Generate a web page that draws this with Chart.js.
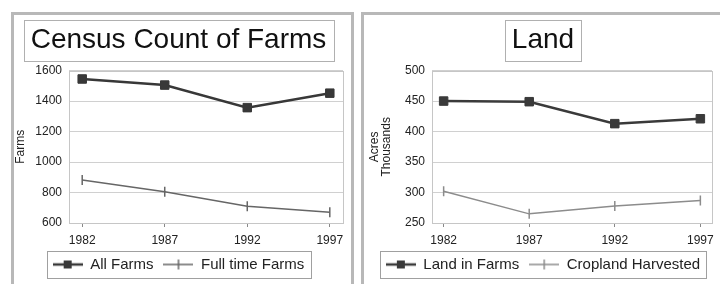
<!DOCTYPE html>
<html>
<head>
<meta charset="utf-8">
<script src="https://cdn.jsdelivr.net/npm/chart.js@4"></script>
<style>
  html, body { margin: 0; padding: 0; background: #fff; overflow: hidden; width: 720px; height: 284px; }
  .panel { position: absolute; border: 3px solid #b8b8b8; background: #fff; }
  canvas { display: block; }
</style>
</head>
<body>
<div class="panel" style="left:11px;top:12px;width:337px;height:285px"><canvas id="farms" width="337" height="275"></canvas></div>
<div class="panel" style="left:361px;top:12px;width:366px;height:285px"><canvas id="land" width="366" height="275"></canvas></div>
<script>
// data
const years = [1982, 1987, 1992, 1997];
const allFarms = [1545, 1505, 1357, 1452];
const fullTimeFarms = [882, 805, 710, 670];
const landInFarms = [450, 449, 413, 421];
const croplandHarvested = [302, 265, 278, 287];

Chart.defaults.font.family = '"Liberation Sans", Arial, sans-serif';
Chart.defaults.color = '#222';
Chart.defaults.animation = false;

function legendSample(color, width, marker) {
    const c = document.createElement('canvas');
    c.width = 30; c.height = 12;
    const g = c.getContext('2d');
    g.strokeStyle = color; g.lineWidth = width;
    g.beginPath(); g.moveTo(0, 6); g.lineTo(30, 6); g.stroke();
    if (marker === 'rect') {
        g.fillStyle = color;
        g.fillRect(11, 2, 8, 8);
    } else {
        g.lineWidth = 1.5;
        g.beginPath(); g.moveTo(15, 1); g.lineTo(15, 11); g.stroke();
    }
    return c;
}

// draws the plot frame, the box around the title and the box around the legend
const framePlugin = {
    id: 'frames',
    beforeDatasetsDraw(chart) {
        const a = chart.chartArea, ctx = chart.ctx;
        ctx.save();
        ctx.strokeStyle = '#c6c6c6';
        ctx.lineWidth = 1;
        ctx.strokeRect(Math.round(a.left) + 0.5, Math.round(a.top) + 0.5, Math.round(a.width), Math.round(a.height));
        ctx.restore();
    },
    afterDraw(chart) {
        const ctx = chart.ctx;
        ctx.save();
        ctx.strokeStyle = '#b0b0b0';
        ctx.lineWidth = 1;
        const t = chart.titleBlock;
        const topts = chart.options.plugins.title;
        ctx.font = topts.font.size + 'px ' + Chart.defaults.font.family;
        const w = ctx.measureText(topts.text).width;
        const cx = (t.left + t.right) / 2;
        const cy = t.top + topts.padding.top + topts.font.size * 1.2 / 2;
        ctx.strokeRect(Math.round(cx - w / 2 - 7) + 0.5, Math.round(cy - 20) + 0.5, Math.round(w + 14), 41);

        const boxes = chart.legend.legendHitBoxes;
        let l = Infinity, r = -Infinity, top = Infinity, bot = -Infinity;
        boxes.forEach(b => {
            l = Math.min(l, b.left); r = Math.max(r, b.left + b.width);
            top = Math.min(top, b.top); bot = Math.max(bot, b.top + b.height);
        });
        const my = (top + bot) / 2;
        ctx.strokeStyle = '#a0a0a0';
        ctx.strokeRect(Math.round(l - 6) + 0.5, Math.round(my - 14) + 0.5, Math.round(r - l + 12), 27);
        ctx.restore();
    }
};

function makeChart(id, opt) {
    const samples = opt.series.map(s => legendSample(s.color, s.width, s.marker));
    return new Chart(document.getElementById(id), {
        type: 'line',
        data: {
            datasets: opt.series.map(s => ({
                label: s.label,
                data: years.map((y, i) => ({ x: y, y: s.values[i] })),
                borderColor: s.color,
                backgroundColor: s.color,
                borderWidth: s.width,
                pointStyle: s.marker,
                pointRotation: s.marker === 'line' ? 90 : 0,
                pointRadius: s.marker === 'rect' ? 6 : 5,
                pointBorderWidth: s.marker === 'rect' ? 1 : 1.5,
                tension: 0
            }))
        },
        options: {
            responsive: false,
            devicePixelRatio: 1,
            layout: { padding: { left: opt.padLeft, right: opt.padRight, top: 0, bottom: 8 } },
            plugins: {
                title: {
                    display: true,
                    text: opt.title,
                    font: { size: 28, weight: 'normal' },
                    color: '#111',
                    padding: { top: 8, bottom: 14 }
                },
                legend: {
                    position: 'bottom',
                    labels: {
                        usePointStyle: true,
                        pointStyleWidth: 30,
                        font: { size: 15 },
                        color: '#222',
                        padding: 10,
                        generateLabels(chart) {
                            const items = Chart.defaults.plugins.legend.labels.generateLabels(chart);
                            items.forEach((it, i) => { it.pointStyle = samples[i]; it.rotation = 0; });
                            return items;
                        }
                    }
                },
                tooltip: { enabled: false }
            },
            scales: {
                x: {
                    type: 'linear',
                    min: years[0] - opt.xPad,
                    max: years[years.length - 1] + opt.xPad,
                    afterBuildTicks(scale) { scale.ticks = years.map(v => ({ value: v })); },
                    afterFit(scale) { scale.height = 24; },
                    grid: { drawOnChartArea: false, tickLength: 4, color: '#888' },
                    border: { display: false },
                    ticks: { font: { size: 12 }, padding: 6, maxRotation: 0, callback: v => String(v) }
                },
                y: {
                    min: opt.yMin,
                    max: opt.yMax,
                    afterFit(scale) { scale.width = opt.axisWidth; },
                    grid: { color: '#d0d0d0', drawTicks: false },
                    border: { display: false },
                    ticks: {
                        stepSize: opt.yStep,
                        padding: 7,
                        font: { size: 12 },
                        callback: v => (v % opt.labelStep === 0 ? String(v) : '')
                    },
                    title: {
                        display: true,
                        text: opt.yTitle,
                        font: { size: 12, lineHeight: 1 },
                        padding: { top: opt.titlePad, bottom: 0 },
                        color: '#222'
                    }
                }
            }
        },
        plugins: [framePlugin]
    });
}

makeChart('farms', {
    title: 'Census Count of Farms',
    yTitle: 'Farms',
    series: [
        { label: 'All Farms', values: allFarms, color: '#383838', width: 2.5, marker: 'rect' },
        { label: 'Full time Farms', values: fullTimeFarms, color: '#666', width: 1.5, marker: 'line' }
    ],
    yMin: 600, yMax: 1600, yStep: 100, labelStep: 200,
    xPad: 0.8, axisWidth: 55, padLeft: 0, padRight: 8, titlePad: 1
});

makeChart('land', {
    title: 'Land',
    yTitle: ['Acres', 'Thousands'],
    series: [
        { label: 'Land in Farms', values: landInFarms, color: '#3a3a3a', width: 2.5, marker: 'rect' },
        { label: 'Cropland Harvested', values: croplandHarvested, color: '#8c8c8c', width: 1.5, marker: 'line' }
    ],
    yMin: 250, yMax: 500, yStep: 50, labelStep: 50,
    xPad: 0.68, axisWidth: 58, padLeft: 10, padRight: 18, titlePad: -5
});
</script>
</body>
</html>
